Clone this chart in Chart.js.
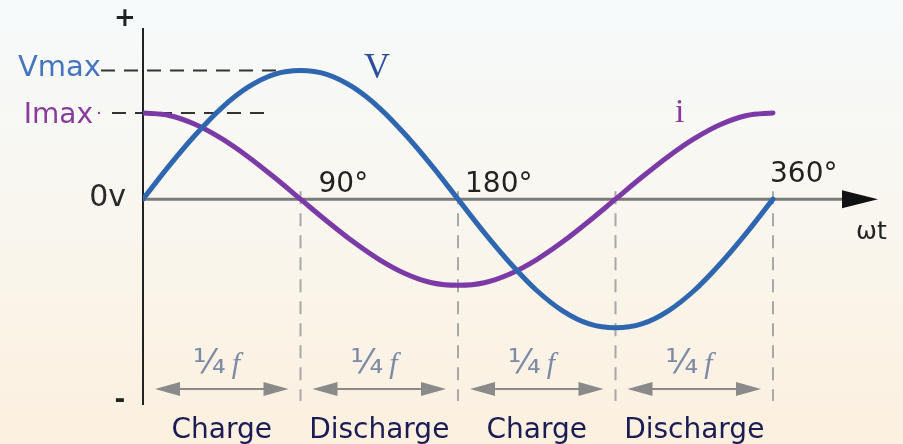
<!DOCTYPE html>
<html>
<head>
<meta charset="utf-8">
<script src="https://cdn.jsdelivr.net/npm/chart.js@4/dist/chart.umd.min.js"></script>
<style>
    html, body { margin: 0; padding: 0; background: #faf6ee; }
    #wrap { width: 903px; height: 444px; }
</style>
</head>
<body>
<div id="wrap"><canvas id="capChart" width="903" height="444"></canvas></div>
<script>
// Phase angle (degrees) along the wt axis
const angles = [0, 15, 30, 45, 60, 75, 90, 105, 120, 135, 150, 165, 180,
    195, 210, 225, 240, 255, 270, 285, 300, 315, 330, 345, 360];

// Voltage V (Vmax = 1)
const voltage = [0, 0.26, 0.5, 0.71, 0.87, 0.97, 1, 0.97, 0.87, 0.71, 0.5, 0.26, 0,
    -0.26, -0.5, -0.71, -0.87, -0.97, -1, -0.97, -0.87, -0.71, -0.5, -0.26, 0];

// Current i (Imax ~ 0.67 of Vmax)
const current = [0.67, 0.65, 0.58, 0.47, 0.33, 0.17, 0, -0.17, -0.33, -0.47, -0.58, -0.65, -0.67,
    -0.65, -0.58, -0.47, -0.33, -0.17, 0, 0.17, 0.33, 0.47, 0.58, 0.65, 0.67];

// Degree labels on the axis
const degreeTicks = [90, 180, 360];
const degreeLabels = ['90°', '180°', '360°'];

// Quarter-cycle markers and the section names under them
const quarterEdges = [0, 90, 180, 270, 360];
const sectionLabels = ['Charge', 'Discharge', 'Charge', 'Discharge'];
const quarterLabel = '¼';

const V_MAX = 1;
const I_MAX = 0.67;

const BLUE = '#2e66b0';
const PURPLE = '#7b3aa6';

/**
 * Draws background, axes, guides and all annotation text
 */
const diagramPlugin = {
    id: 'diagram',
    beforeDraw(chart) {
        const ctx = chart.ctx;
        const g = ctx.createLinearGradient(0, 0, 0, chart.height);
        g.addColorStop(0, '#f6fafb');
        g.addColorStop(0.5, '#f9f6ee');
        g.addColorStop(1, '#fcf0df');
        ctx.save();
        ctx.fillStyle = g;
        ctx.fillRect(0, 0, chart.width, chart.height);
        ctx.restore();
    },
    beforeDatasetsDraw(chart) {
        const ctx = chart.ctx;
        const x = chart.scales.x;
        const y = chart.scales.y;
        const area = chart.chartArea;
        const x0 = x.getPixelForValue(0);
        const y0 = y.getPixelForValue(0);

        ctx.save();

        // vertical quarter guides
        ctx.strokeStyle = '#a8a8a8';
        ctx.lineWidth = 2;
        ctx.setLineDash([13, 9]);
        quarterEdges.slice(1).forEach(a => {
            const px = x.getPixelForValue(a);
            ctx.beginPath();
            ctx.moveTo(px, y0 - 8);
            ctx.lineTo(px, area.bottom - 4);
            ctx.stroke();
        });

        // Vmax / Imax guides
        ctx.strokeStyle = '#333333';
        ctx.setLineDash([14, 9]);
        const vy = y.getPixelForValue(V_MAX);
        ctx.beginPath();
        ctx.moveTo(101, vy);
        ctx.lineTo(x.getPixelForValue(90), vy);
        ctx.stroke();
        const iy = y.getPixelForValue(I_MAX);
        ctx.beginPath();
        ctx.moveTo(112, iy);
        ctx.lineTo(272, iy);
        ctx.stroke();
        ctx.setLineDash([]);

        // x axis with arrow
        ctx.strokeStyle = '#7a7a7a';
        ctx.lineWidth = 3;
        ctx.beginPath();
        ctx.moveTo(x0, y0);
        ctx.lineTo(area.right - 30, y0);
        ctx.stroke();
        ctx.fillStyle = '#111111';
        ctx.beginPath();
        ctx.moveTo(area.right, y0);
        ctx.lineTo(area.right - 36, y0 - 9);
        ctx.lineTo(area.right - 36, y0 + 9);
        ctx.closePath();
        ctx.fill();

        // y axis
        ctx.strokeStyle = '#222222';
        ctx.lineWidth = 2;
        ctx.beginPath();
        ctx.moveTo(x0, area.top);
        ctx.lineTo(x0, area.bottom);
        ctx.stroke();

        ctx.restore();
    },
    afterDraw(chart) {
        const ctx = chart.ctx;
        const x = chart.scales.x;
        const y = chart.scales.y;
        const y0 = y.getPixelForValue(0);
        const font = '"DejaVu Sans", Verdana, sans-serif';
        const serif = '"Liberation Serif", "DejaVu Serif", serif';

        ctx.save();
        ctx.textBaseline = 'alphabetic';

        // axis end signs
        ctx.fillStyle = '#222222';
        ctx.font = 'bold 26px ' + font;
        ctx.textAlign = 'center';
        ctx.fillText('+', 125, 26);
        ctx.fillText('-', 120, 408);

        // left value labels
        ctx.textAlign = 'right';
        ctx.font = '29px ' + font;
        ctx.fillStyle = '#4675c0';
        ctx.fillText('Vmax', 101, y.getPixelForValue(V_MAX) + 6);
        ctx.fillStyle = '#8a3c9e';
        ctx.font = '28px ' + font;
        ctx.fillText('Imax', 93, y.getPixelForValue(I_MAX) + 10);
        ctx.fillRect(98, y.getPixelForValue(I_MAX) - 1, 2, 2);
        ctx.fillStyle = '#2a2a2a';
        ctx.font = '30px ' + font;
        ctx.fillText('0v', 126, y0 + 7);

        // curve names
        ctx.textAlign = 'left';
        ctx.font = '36px ' + serif;
        ctx.fillStyle = '#2c4f9c';
        ctx.fillText('V', 364, 78);
        ctx.fillStyle = '#8a3c9e';
        ctx.font = '34px ' + serif;
        ctx.fillText('i', 675, 122);

        // degree labels
        ctx.fillStyle = '#222222';
        ctx.font = '28px ' + font;
        degreeTicks.forEach((a, k) => {
            const px = x.getPixelForValue(a);
            const dx = a === 360 ? -3 : (a === 90 ? 18 : 7);
            const py = a === 360 ? 182 : 192;
            ctx.fillText(degreeLabels[k], px + dx, py);
        });

        // wt label
        ctx.font = '25px ' + font;
        ctx.fillText('ωt', 856, 239);

        // quarter arrows, 1/4 f labels and section names
        for (let k = 0; k < sectionLabels.length; k++) {
            const a = x.getPixelForValue(quarterEdges[k]) + 12;
            const b = x.getPixelForValue(quarterEdges[k + 1]) - 12;
            const mid = (a + b) / 2;
            const ay = 389;

            ctx.strokeStyle = '#8a8a8a';
            ctx.fillStyle = '#8a8a8a';
            ctx.lineWidth = 2;
            ctx.beginPath();
            ctx.moveTo(a + 10, ay);
            ctx.lineTo(b - 10, ay);
            ctx.stroke();
            ctx.beginPath();
            ctx.moveTo(a, ay);
            ctx.lineTo(a + 25, ay - 7);
            ctx.lineTo(a + 25, ay + 7);
            ctx.closePath();
            ctx.fill();
            ctx.beginPath();
            ctx.moveTo(b, ay);
            ctx.lineTo(b - 25, ay - 7);
            ctx.lineTo(b - 25, ay + 7);
            ctx.closePath();
            ctx.fill();

            ctx.fillStyle = '#7d8aa6';
            ctx.textAlign = 'right';
            ctx.font = '34px ' + font;
            ctx.fillText(quarterLabel, mid + 4, 373);
            ctx.textAlign = 'left';
            ctx.font = 'italic 30px ' + serif;
            ctx.fillText('f', mid + 10, 373);

            ctx.fillStyle = '#1c1c55';
            ctx.textAlign = 'center';
            ctx.font = '28px ' + font;
            ctx.fillText(sectionLabels[k], (x.getPixelForValue(quarterEdges[k]) + x.getPixelForValue(quarterEdges[k + 1])) / 2, 438);
        }

        ctx.restore();
    }
};

const ctx = document.getElementById('capChart');

new Chart(ctx, {
    type: 'line',
    data: {
        datasets: [
            {
                label: 'V',
                data: angles.map((a, k) => ({ x: a, y: voltage[k] })),
                borderColor: BLUE,
                borderWidth: 5,
                borderCapStyle: 'round',
                pointRadius: 0,
                cubicInterpolationMode: 'monotone',
                fill: false
            },
            {
                label: 'i',
                data: angles.map((a, k) => ({ x: a, y: current[k] })),
                borderColor: PURPLE,
                borderWidth: 5,
                borderCapStyle: 'round',
                pointRadius: 0,
                cubicInterpolationMode: 'monotone',
                fill: false
            }
        ]
    },
    options: {
        responsive: false,
        animation: false,
        layout: {
            padding: { left: 143, right: 25, top: 28, bottom: 39 }
        },
        plugins: {
            legend: { display: false },
            tooltip: { enabled: false }
        },
        scales: {
            x: { type: 'linear', min: 0, max: 420, display: false },
            y: { type: 'linear', min: -1.6, max: 1.33, display: false }
        }
    },
    plugins: [diagramPlugin]
});
</script>
</body>
</html>
